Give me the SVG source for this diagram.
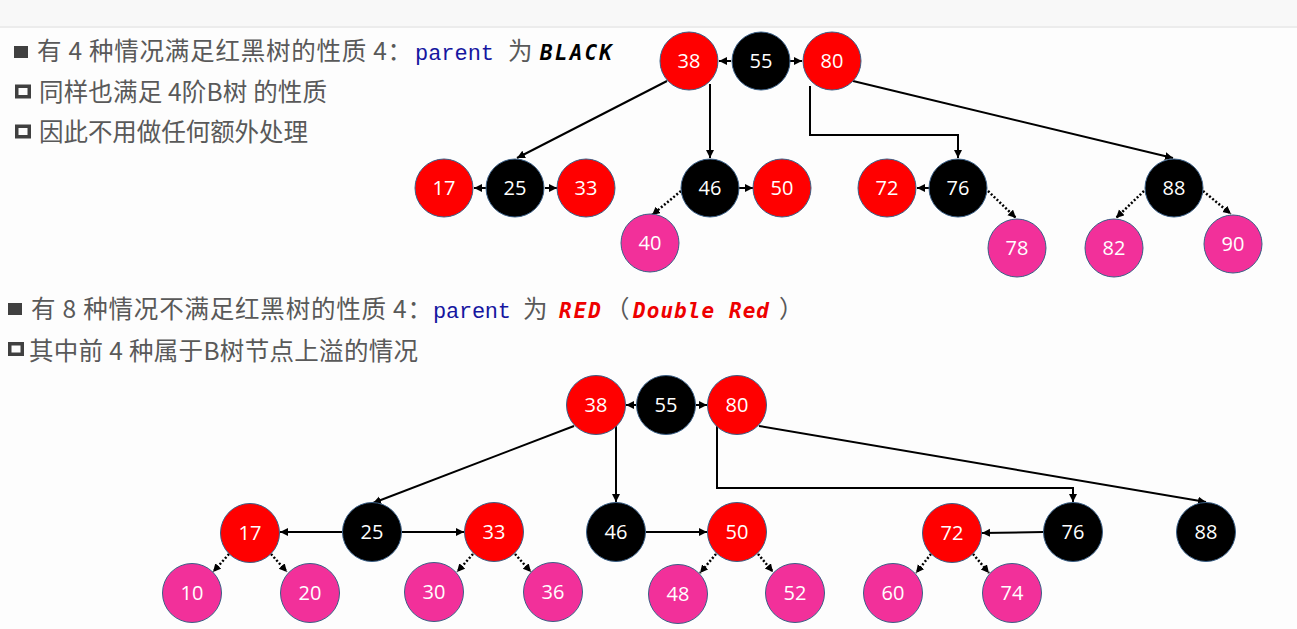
<svg xmlns="http://www.w3.org/2000/svg" width="1297" height="629" viewBox="0 0 1297 629">
<style>
.cjk{font-family:"Noto Sans CJK SC","Noto Sans",sans-serif;font-size:24.5px;fill:#595959}
.mono{font-family:"Liberation Mono","DejaVu Sans Mono",monospace;font-size:22px;fill:#1616a0}
.kw{font-family:"DejaVu Sans Mono","Liberation Mono",monospace;font-size:21px;font-weight:bold;font-style:italic}
.bul{fill:#404040}
.box{fill:none;stroke:#404040;stroke-width:3.5}
.n circle{stroke:#3a5f86;stroke-width:1}
.n text{font-family:"Open Sans","Liberation Sans",sans-serif;font-size:20px;fill:#ffffff;text-anchor:middle}
.r circle{fill:#ff0000}
.b circle{fill:#000000}
.p circle{fill:#f2309a}
.e{fill:none;stroke:#000;stroke-width:2;marker-end:url(#ah)}
.d{fill:none;stroke:#000;stroke-width:2.5;stroke-dasharray:2 2;marker-end:url(#ah)}
</style>
<defs>
<marker id="ah" markerUnits="userSpaceOnUse" markerWidth="10" markerHeight="10" refX="8" refY="4" orient="auto"><path d="M0,0 L8,4 L0,8 z" fill="#000"/></marker>
</defs>
<rect width="1297" height="629" fill="#fdfdfd"/>
<rect width="1297" height="26" fill="#f8f8f8"/>
<rect y="26" width="1297" height="2" fill="#ececec"/>

<g id="text">
<rect class="bul" x="14" y="46" width="14" height="12"/>
<text class="cjk" x="37" y="60" textLength="375">有 4 种情况满足红黑树的性质 4：</text>
<text class="mono" x="415" y="60" textLength="79">parent</text>
<text class="cjk" x="508" y="60">为</text>
<text class="kw" x="540" y="60" textLength="72" fill="#000">BLACK</text>
<rect class="box" x="16.75" y="86.25" width="12.5" height="10.5"/>
<text class="cjk" x="39" y="101" textLength="288">同样也满足 4阶B树 的性质</text>
<rect class="box" x="16.75" y="126.25" width="12.5" height="10.5"/>
<text class="cjk" x="39" y="141" textLength="269">因此不用做任何额外处理</text>

<rect class="bul" x="8" y="303" width="14" height="12"/>
<text class="cjk" x="31" y="318" textLength="401">有 8 种情况不满足红黑树的性质 4：</text>
<text class="mono" x="433" y="318" textLength="78">parent</text>
<text class="cjk" x="523" y="318">为</text>
<text class="kw" x="559" y="318" textLength="42" fill="#ee0000">RED</text>
<text class="cjk" x="605" y="318">（</text>
<text class="kw" x="633" y="318" textLength="136" fill="#ee0000">Double Red</text>
<text class="cjk" x="779" y="318">）</text>
<rect class="box" x="9.75" y="343.75" width="12.5" height="10.5"/>
<text class="cjk" x="29" y="360" textLength="389">其中前 4 种属于B树节点上溢的情况</text>
</g>

<g id="connectors">
<path class="e" d="M731,61 L719,61"/>
<path class="e" d="M790,61 L802,61"/>
<path class="e" d="M667,81 L517,158"/>
<path class="e" d="M710,84 L710,158"/>
<path class="e" d="M810,86 L810,135 L958,135 L958,158"/>
<path class="e" d="M853,81 L1173,158"/>
<path class="e" d="M486,188 L474,188"/>
<path class="e" d="M545,188 L557,188"/>
<path class="e" d="M739,188 L753,188"/>
<path class="e" d="M929,188 L917,188"/>
<path class="d" d="M681,191 L652,215"/>
<path class="d" d="M988,191 L1016,218"/>
<path class="d" d="M1144,191 L1116,218"/>
<path class="d" d="M1203,191 L1231,214"/>

<path class="e" d="M636,405 L626,405"/>
<path class="e" d="M696,405 L707,405"/>
<path class="e" d="M574,426 L373,503"/>
<path class="e" d="M616,426 L616,502"/>
<path class="e" d="M717,426 L717,488 L1073,488 L1073,502"/>
<path class="e" d="M759,426 L1206,502"/>
<path class="e" d="M342,532 L280,532"/>
<path class="e" d="M402,532 L464,532"/>
<path class="e" d="M646,532 L707,532"/>
<path class="e" d="M1044,532 L982,533"/>
<path class="d" d="M229,554 L213,572"/>
<path class="d" d="M271,554 L287,572"/>
<path class="d" d="M473,554 L457,572"/>
<path class="d" d="M515,554 L531,572"/>
<path class="d" d="M716,554 L700,573"/>
<path class="d" d="M758,554 L773,572"/>
<path class="d" d="M931,554 L916,573"/>
<path class="d" d="M973,554 L989,573"/>
</g>

<g id="n1-38" class="n r"><circle cx="689" cy="61" r="29"/><text x="689" y="68">38</text></g>
<g id="n1-55" class="n b"><circle cx="761" cy="61" r="29"/><text x="761" y="68">55</text></g>
<g id="n1-80" class="n r"><circle cx="832" cy="61" r="29"/><text x="832" y="68">80</text></g>
<g id="n1-17" class="n r"><circle cx="444" cy="188" r="29"/><text x="444" y="195">17</text></g>
<g id="n1-25" class="n b"><circle cx="515" cy="188" r="29"/><text x="515" y="195">25</text></g>
<g id="n1-33" class="n r"><circle cx="586" cy="188" r="29"/><text x="586" y="195">33</text></g>
<g id="n1-46" class="n b"><circle cx="710" cy="188" r="29"/><text x="710" y="195">46</text></g>
<g id="n1-50" class="n r"><circle cx="782" cy="188" r="29"/><text x="782" y="195">50</text></g>
<g id="n1-40" class="n p"><circle cx="650" cy="243" r="29"/><text x="650" y="250">40</text></g>
<g id="n1-72" class="n r"><circle cx="887" cy="188" r="29"/><text x="887" y="195">72</text></g>
<g id="n1-76" class="n b"><circle cx="958" cy="188" r="29"/><text x="958" y="195">76</text></g>
<g id="n1-78" class="n p"><circle cx="1017" cy="248" r="29"/><text x="1017" y="255">78</text></g>
<g id="n1-88" class="n b"><circle cx="1174" cy="188" r="29"/><text x="1174" y="195">88</text></g>
<g id="n1-82" class="n p"><circle cx="1114" cy="248" r="29"/><text x="1114" y="255">82</text></g>
<g id="n1-90" class="n p"><circle cx="1233" cy="244" r="29"/><text x="1233" y="251">90</text></g>

<g id="n2-38" class="n r"><circle cx="596" cy="405" r="29.5"/><text x="596" y="412">38</text></g>
<g id="n2-55" class="n b"><circle cx="666" cy="405" r="29.5"/><text x="666" y="412">55</text></g>
<g id="n2-80" class="n r"><circle cx="737" cy="405" r="29.5"/><text x="737" y="412">80</text></g>
<g id="n2-17" class="n r"><circle cx="250" cy="533" r="29.5"/><text x="250" y="540">17</text></g>
<g id="n2-25" class="n b"><circle cx="372" cy="532" r="29.5"/><text x="372" y="539">25</text></g>
<g id="n2-33" class="n r"><circle cx="494" cy="532" r="29.5"/><text x="494" y="539">33</text></g>
<g id="n2-46" class="n b"><circle cx="616" cy="532" r="29.5"/><text x="616" y="539">46</text></g>
<g id="n2-50" class="n r"><circle cx="737" cy="532" r="29.5"/><text x="737" y="539">50</text></g>
<g id="n2-72" class="n r"><circle cx="952" cy="533" r="29.5"/><text x="952" y="540">72</text></g>
<g id="n2-76" class="n b"><circle cx="1073" cy="532" r="29.5"/><text x="1073" y="539">76</text></g>
<g id="n2-88" class="n b"><circle cx="1206" cy="532" r="29.5"/><text x="1206" y="539">88</text></g>
<g id="n2-10" class="n p"><circle cx="192" cy="593" r="29.5"/><text x="192" y="600">10</text></g>
<g id="n2-20" class="n p"><circle cx="310" cy="593" r="29.5"/><text x="310" y="600">20</text></g>
<g id="n2-30" class="n p"><circle cx="434" cy="592" r="29.5"/><text x="434" y="599">30</text></g>
<g id="n2-36" class="n p"><circle cx="553" cy="592" r="29.5"/><text x="553" y="599">36</text></g>
<g id="n2-48" class="n p"><circle cx="678" cy="594" r="29.5"/><text x="678" y="601">48</text></g>
<g id="n2-52" class="n p"><circle cx="795" cy="593" r="29.5"/><text x="795" y="600">52</text></g>
<g id="n2-60" class="n p"><circle cx="893" cy="593" r="29.5"/><text x="893" y="600">60</text></g>
<g id="n2-74" class="n p"><circle cx="1012" cy="593" r="29.5"/><text x="1012" y="600">74</text></g>
</svg>
